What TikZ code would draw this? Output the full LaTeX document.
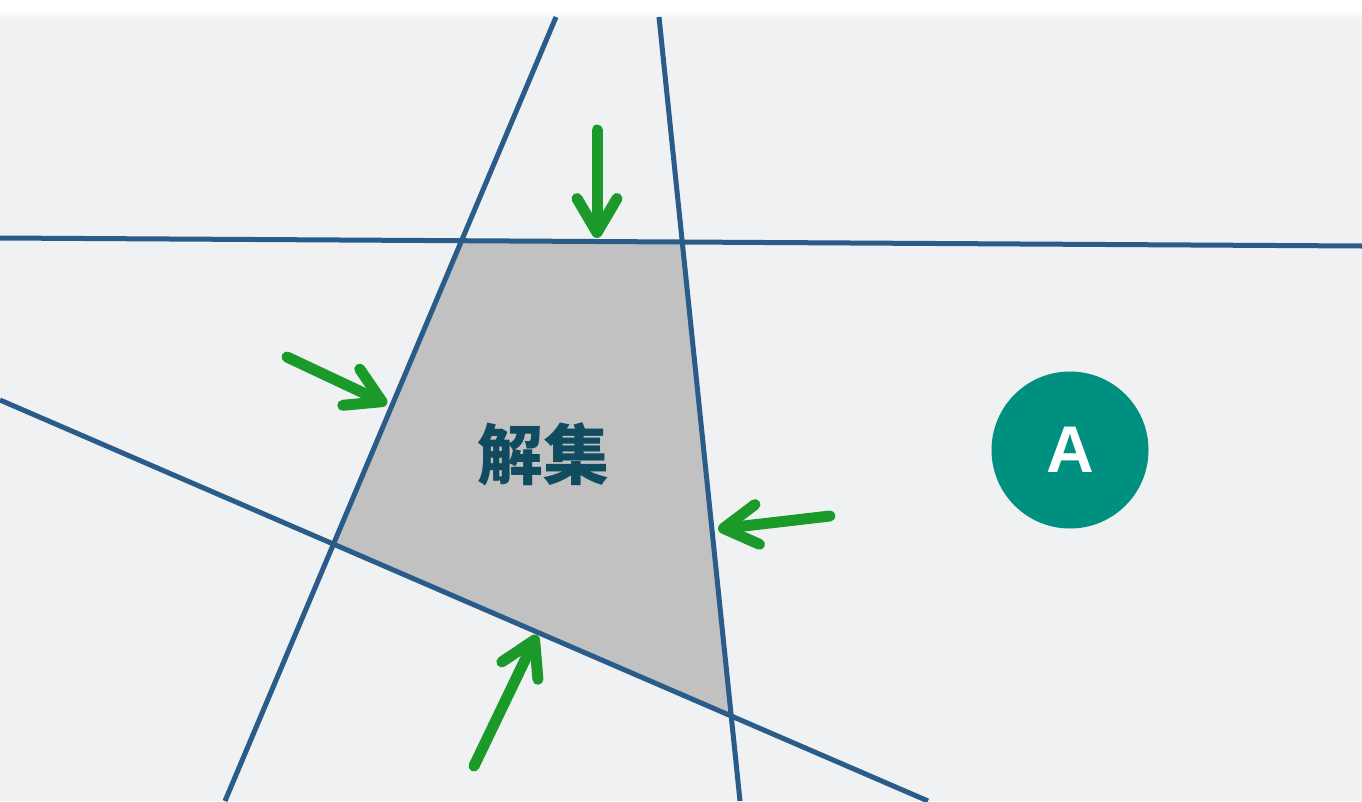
\documentclass[tikz,border=0pt]{standalone}
\usepackage{fontspec}
\setmainfont{Liberation Sans}
\newfontfamily\cjk{Noto Sans CJK SC}
\usetikzlibrary{arrows.meta}
\definecolor{bgc}{HTML}{EFF1F3}
\definecolor{linec}{HTML}{2A5C8A}
\definecolor{fillc}{HTML}{C1C1C1}
\definecolor{arrc}{HTML}{1B9A2A}
\definecolor{tealc}{HTML}{00907F}
\definecolor{txtc}{HTML}{114B5F}
\tikzset{
  bound/.style={draw=linec, line width=5pt, line cap=butt},
  push/.style={draw=arrc, line width=11pt, line cap=round,
    -{Straight Barb[length=34pt,width=40pt,round]}},
}
\begin{document}
\begin{tikzpicture}[x=1pt,y=-1pt]
\useasboundingbox (0,0) rectangle (1362,801);
\fill[white] (0,0) rectangle (1362,801);
\shade[top color=white, bottom color=bgc] (0,10) rectangle (1362,20);
\fill[bgc] (0,20) rectangle (1362,801);
% vertices
\coordinate (p1) at (462,240);
\coordinate (p2) at (682,242);
\coordinate (p3) at (729,715);
\coordinate (p4) at (335,545);
\fill[fillc] (p1) -- (p2) -- (p3) -- (p4) -- cycle;
% line ends
\coordinate (a1) at (556,17);
\coordinate (a2) at (225,801);
\coordinate (b1) at (659,17);
\coordinate (b2) at (740,801);
\coordinate (h1) at (0,238);
\coordinate (h2) at (1362,246);
\coordinate (l1) at (0,400);
\coordinate (l2) at (928,801);
\draw[bound] (a1) -- (a2);
\draw[bound] (b1) -- (b2);
\draw[bound] (h1) -- (h2);
\draw[bound] (l1) -- (l2);
% arrows
\coordinate (t0) at (597,130);
\coordinate (t1) at (597,238);
\coordinate (s0) at (287,357);
\coordinate (s1) at (387,404);
\coordinate (r0) at (830,516);
\coordinate (r1) at (718,529);
\coordinate (u0) at (474,766);
\coordinate (u1) at (537,635);
\draw[push] (t0) -- (t1);
\draw[push] (s0) -- (s1);
\draw[push] (r0) -- (r1);
\draw[push] (u0) -- (u1);
\node[text=txtc, font=\cjk\bfseries\fontsize{66}{70}\selectfont] (lab) at (543,454) {解集};
\node[circle, fill=tealc, minimum size=157pt, inner sep=0pt, text=white,
  font=\bfseries\fontsize{66}{70}\selectfont] (A) at (1070,450) {A};
\end{tikzpicture}
\end{document}
